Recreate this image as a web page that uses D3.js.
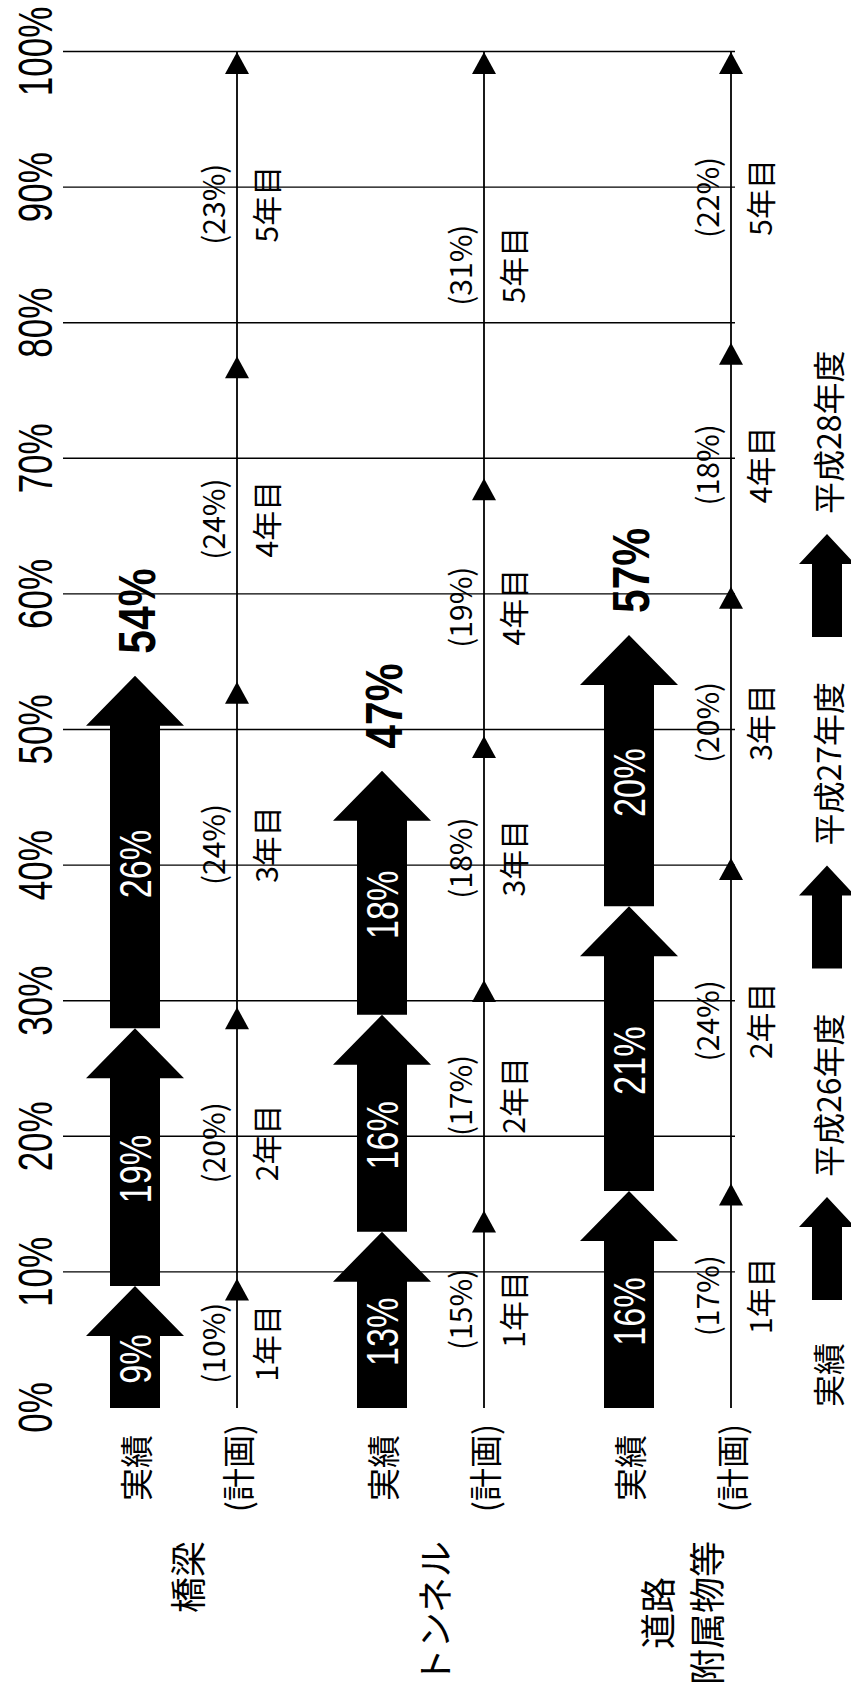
<!DOCTYPE html>
<html lang="ja">
    <head>
        <meta charset="utf-8">
        <title>点検の実施状況</title>
        <style>
            body {
                margin: 0;
                background: #fff;
            }
            svg {
                display: block;
            }
            text {
                font-family: "Noto Sans CJK JP", "Noto Sans", sans-serif;
                fill: #000;
            }
            text.num {
                font-family: "Liberation Sans", Arial, sans-serif;
            }
        </style>
    </head>
    <body>
        <div id="chart"></div>
        <script src="https://d3js.org/d3.v7.min.js"></script>
        <script>
            const groupNames = [["橋梁"], ["トンネル"], ["道路", "附属物等"]];
            const rowNames = ["実績", "(計画)"];
            const tickValues = [0, 10, 20, 30, 40, 50, 60, 70, 80, 90, 100];

            // 実績 (H26, H27, H28) per group
            const actualYears = ["平成26年度", "平成27年度", "平成28年度"];
            const actualH26 = [9, 13, 16];
            const actualH27 = [19, 16, 21];
            const actualH28 = [26, 18, 20];

            // 計画 per year, per group
            const planYears = ["1年目", "2年目", "3年目", "4年目", "5年目"];
            const planBridge = [10, 20, 24, 24, 23];
            const planTunnel = [15, 17, 18, 19, 31];
            const planRoad = [17, 24, 20, 18, 22];

            const actualSeries = [actualH26, actualH27, actualH28];
            const planValues = [planBridge, planTunnel, planRoad];

            const width = 851;
            const height = 1696;
            const planOffset = 102;

            const svg = d3.select("#chart")
                .append("svg")
                .attr("width", width)
                .attr("height", height);

            svg.append("rect").attr("width", width).attr("height", height).attr("fill", "#fff");

            // the whole chart lies on its side: draw it flat, then turn it
            const g = svg.append("g")
                .attr("transform", "translate(0," + height + ") rotate(-90)");

            const x = d3.scaleLinear().domain([0, 100]).range([288, 1644]);
            const col = d3.scalePoint().domain(d3.range(groupNames.length)).range([135, 629]);

            // grid + tick labels
            const axis = d3.axisTop(x)
                .tickValues(tickValues)
                .tickFormat(d => d + "%")
                .tickSizeInner(-672)
                .tickSizeOuter(0)
                .tickPadding(11);

            const ax = g.append("g").attr("transform", "translate(0,63)").call(axis);
            ax.select(".domain").remove();
            ax.selectAll(".tick line")
                .attr("stroke", "#000")
                .attr("stroke-width", 1.4)
                .filter(d => d === 0)
                .remove();
            ax.selectAll(".tick text")
                .attr("class", "num")
                .attr("font-size", 48)
                .attr("transform", "scale(0.73,1)");

            // plan lines
            groupNames.forEach((_, i) => {
                const pv = col(i) + planOffset;
                g.append("line")
                    .attr("x1", x(0)).attr("x2", x(100))
                    .attr("y1", pv).attr("y2", pv)
                    .attr("stroke", "#000")
                    .attr("stroke-width", 1.8);

                let cum = 0;
                let prevTip = x(0);
                planValues[i].forEach((v, j) => {
                    cum += v;
                    const tip = cum >= 100 ? x(100) : x(cum) - 6;
                    g.append("path")
                        .attr("d", "M" + tip + "," + pv + "L" + (tip - 22) + "," + (pv - 12) +
                            "L" + (tip - 22) + "," + (pv + 12) + "Z")
                        .attr("fill", "#000");

                    const mid = (prevTip + tip) / 2;
                    g.append("text")
                        .attr("x", mid).attr("y", pv - 25)
                        .attr("text-anchor", "middle")
                        .attr("dominant-baseline", "central")
                        .attr("font-size", 30)
                        .text("(" + v + "%)");
                    g.append("text")
                        .attr("x", mid).attr("y", pv + 28)
                        .attr("text-anchor", "middle")
                        .attr("dominant-baseline", "central")
                        .attr("font-size", 30)
                        .text(planYears[j]);
                    prevTip = tip;
                });
            });

            // block arrow, flat, pointing to +u
            function blockArrow(u0, u1, cv, body, head, headLen) {
                const ub = u1 - headLen;
                return "M" + u0 + "," + (cv - body) +
                    "L" + ub + "," + (cv - body) +
                    "L" + ub + "," + (cv - head) +
                    "L" + u1 + "," + cv +
                    "L" + ub + "," + (cv + head) +
                    "L" + ub + "," + (cv + body) +
                    "L" + u0 + "," + (cv + body) + "Z";
            }

            // actual arrows
            groupNames.forEach((_, i) => {
                const cv = col(i);
                let start = 0;
                actualSeries.forEach(series => {
                    const end = start + series[i];
                    g.append("path")
                        .attr("d", blockArrow(x(start), x(end), cv, 25, 49, 50))
                        .attr("fill", "#000");

                    const mid = (x(start) + x(end)) / 2 - 12;
                    g.append("text")
                        .attr("class", "num")
                        .attr("transform", "translate(" + mid + "," + (cv + 16) + ") scale(0.76,1)")
                        .attr("text-anchor", "middle")
                        .attr("font-size", 45)
                        .style("fill", "#fff")
                        .text(series[i] + "%");
                    start = end;
                });

                g.append("text")
                    .attr("class", "num")
                    .attr("transform", "translate(" + (x(start) + 22) + "," + (cv + 20) + ") scale(0.82,1)")
                    .attr("font-size", 52)
                    .attr("font-weight", "bold")
                    .text(start + "%");
            });

            // row labels
            groupNames.forEach((_, i) => {
                rowNames.forEach((name, r) => {
                    g.append("text")
                        .attr("x", 228)
                        .attr("y", col(i) + r * planOffset)
                        .attr("text-anchor", "middle")
                        .attr("dominant-baseline", "central")
                        .attr("font-size", 33)
                        .text(name);
                });
            });

            // group labels: right aligned block, lines centred in it
            groupNames.forEach((lines, i) => {
                const cv = col(i) + planOffset / 2;
                const texts = lines.map((line, k) => g.append("text")
                    .attr("y", cv + (k - (lines.length - 1) / 2) * 49)
                    .attr("text-anchor", "middle")
                    .attr("dominant-baseline", "central")
                    .attr("font-size", 36)
                    .text(line));
                const maxW = d3.max(texts, t => t.node().getComputedTextLength());
                texts.forEach(t => t.attr("x", 155 - maxW / 2));
            });

            // legend
            const lv = 827;
            let lu = 289;
            const first = g.append("text")
                .attr("x", lu).attr("y", lv)
                .attr("dominant-baseline", "central")
                .attr("font-size", 32)
                .text("実績");
            lu += first.node().getComputedTextLength() + 43;
            actualYears.forEach(name => {
                g.append("path")
                    .attr("d", blockArrow(lu, lu + 103, lv, 15, 28, 30))
                    .attr("fill", "#000");
                lu += 103 + 20;
                const t = g.append("text")
                    .attr("x", lu).attr("y", lv)
                    .attr("dominant-baseline", "central")
                    .attr("font-size", 32)
                    .text(name);
                lu += t.node().getComputedTextLength() + 45;
            });
        </script>
    </body>
</html>
